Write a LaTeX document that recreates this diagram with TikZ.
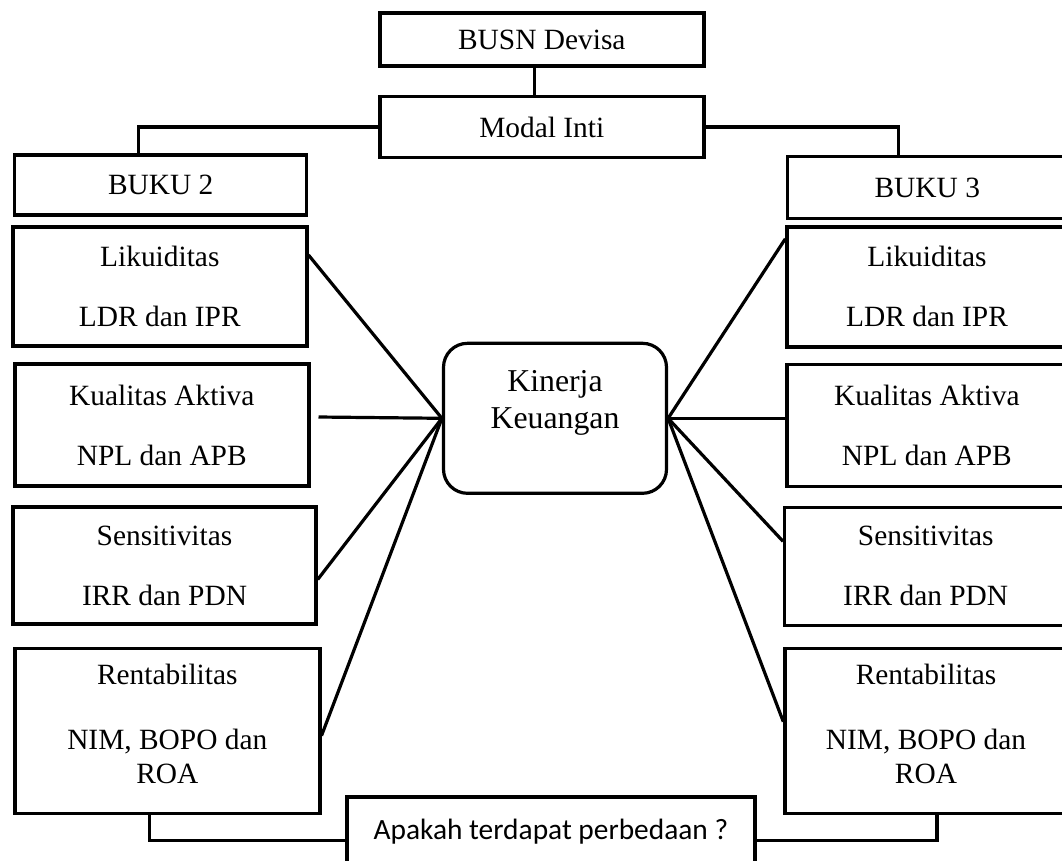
\documentclass[tikz,border=0pt]{standalone}
\usepackage{fontspec}
\setmainfont{Liberation Serif}
\newfontfamily\calibrifont{Carlito}
\usetikzlibrary{positioning,calc}

\begin{document}
\begin{tikzpicture}[
  x=1pt, y=-1pt,
  every node/.style={align=center},
  box/.style={draw=black, line width=3.4pt, fill=white, inner sep=0pt,
              font=\fontsize{29.4}{34}\selectfont},
  sidebox/.style={box, minimum width=282},
  hubbox/.style={box, rounded corners=24pt, line width=3.2pt,
              font=\fontsize{31.8}{37.6}\selectfont},
  link/.style={black, line width=3.2pt},
]
\useasboundingbox (0,0) rectangle (1062,860);
\clip (0,0) rectangle (1062,860);

%% --- Top: bank group and core capital ---
\node[box, minimum width=324, minimum height=53] (busn)  at (541.8, 39.5) {BUSN Devisa};
\node[box, minimum width=324, minimum height=61] (modal) at (541.8,127.0) {Modal Inti};

%% --- Left column: BUKU 2 ---
\node[box, minimum width=292, minimum height=60]  (bukuL) at (160.7,184.8) {BUKU 2};
\node[box, minimum width=294, minimum height=119] (likL)  at (159.8,286.5) {Likuiditas\\[26pt]LDR dan IPR};
\node[box, minimum width=294, minimum height=122] (kualL) at (161.8,425.0) {Kualitas Aktiva\\[26pt]NPL dan APB};
\node[box, minimum width=303, minimum height=117] (sensL) at (164.5,565.5) {Sensitivitas\\[26pt]IRR dan PDN};
\node[box, minimum width=305, minimum height=165] (rentL) at (167.3,730.7) {Rentabilitas\\[31pt]NIM, BOPO dan\\ROA\\[-20pt]\mbox{}};

%% --- Right column: BUKU 3 (runs off the right edge) ---
\node[sidebox, minimum width=280, minimum height=62]  (bukuR) at (927.3,187.6) {BUKU 3};
\node[sidebox, minimum width=280, minimum height=120] (likR)  at (927.0,286.8) {Likuiditas\\[26pt]LDR dan IPR};
\node[sidebox, minimum width=280, minimum height=122] (kualR) at (926.9,425.3) {Kualitas Aktiva\\[26pt]NPL dan APB};
\node[sidebox, minimum height=118] (sensR) at (925.7,566.3) {Sensitivitas\\[26pt]IRR dan PDN};
\node[sidebox, minimum height=165] (rentR) at (926.0,730.7) {Rentabilitas\\[31pt]NIM, BOPO dan\\ROA\\[-20pt]\mbox{}};

%% --- Centre and question ---
\node[hubbox, minimum width=223, minimum height=150] (kin) at (555.0,418.3) {Kinerja\\Keuangan\\\mbox{}};
\node[box, minimum width=408, minimum height=69,
      font=\calibrifont\fontsize{29.4}{35}\selectfont] (apakah) at (550.9,831.5) {Apakah terdapat perbedaan ?};

%% --- Tree connectors ---
\draw[link] ([xshift=-7pt]busn.south) -- ([xshift=-7pt]modal.north);
\draw[link] (modal.west) -| ([xshift=-22pt]bukuL.north);
\draw[link] (modal.east) -| ([xshift=-29pt]bukuR.north);

%% --- Ratios -> Kinerja Keuangan ---
\draw[link] ([yshift=31.5pt]likL.east) -- (kin.west);
\draw[link] ([xshift=8pt,yshift=8pt]kualL.east) -- (kin.west);
\draw[link] ([yshift=-14pt]sensL.east) -- (kin.west);
\draw[link] ([yshift=-5pt]rentL.east) -- (kin.west);
\draw[link] (kin.east) -- ([yshift=48pt]likR.west);
\draw[link] (kin.east) -- ([yshift=7pt]kualR.west);
\draw[link] (kin.east) -- ([yshift=25pt]sensR.west);
\draw[link] (kin.east) -- ([yshift=9pt]rentR.west);

%% --- Both groups -> question ---
\draw[link] ([xshift=-18pt]rentL.south) |- ([yshift=-9pt]apakah.west);
\draw[link] ([yshift=-9pt]apakah.east) -| ([xshift=11pt]rentR.south);

\end{tikzpicture}
\end{document}
